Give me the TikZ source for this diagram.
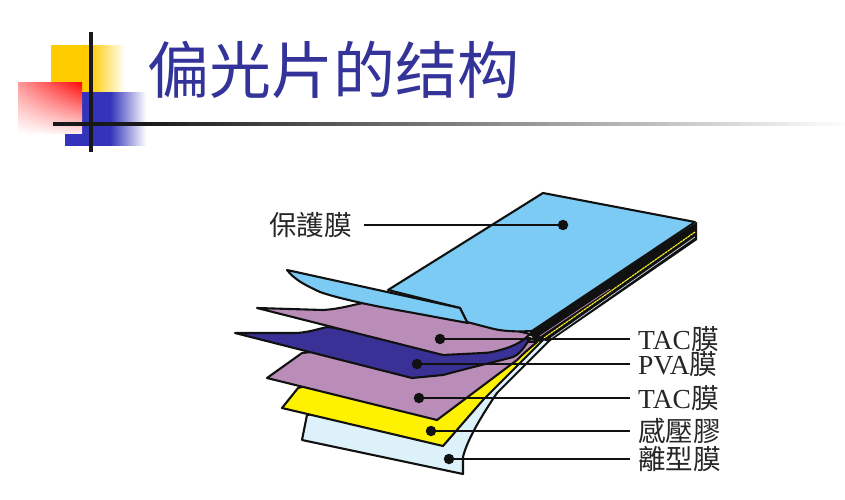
\documentclass[tikz,border=0pt]{standalone}
\usepackage{fontspec}
\usetikzlibrary{shadings}
\setmainfont{Liberation Serif}
\newfontfamily\cjktc{Noto Sans CJK TC}
\newfontfamily\cjksc{Noto Sans CJK SC}
\definecolor{titleblue}{HTML}{333399}
\definecolor{decoyellow}{HTML}{FFCC00}
\definecolor{decoblue}{HTML}{3333BB}
\definecolor{filmblue}{HTML}{7CCBF5}
\definecolor{tacpink}{HTML}{B98DB8}
\definecolor{pvablue}{HTML}{3A3196}
\definecolor{glueyellow}{HTML}{FFF200}
\definecolor{linerblue}{HTML}{DDF1FA}
\definecolor{inkblack}{HTML}{111111}
\tikzset{
  film/.style={draw=inkblack,line width=2.1pt,line join=round},
  dotmark/.style={circle,fill=inkblack,inner sep=0pt,minimum size=10.5pt},
  leader/.style={draw=inkblack,line width=2pt},
  lab/.style={inner xsep=8pt,inner ysep=0pt,anchor=west,font=\fontsize{27.5}{27.5}\selectfont,text=black!85},
  decobar/.style={line width=4pt,color=black!90},
}
\begin{document}
\begin{tikzpicture}[x=1pt,y=-1pt]
\useasboundingbox (0,0) rectangle (845,500);
% decoration
\fill[decoyellow] (51,45) rectangle (125,92);
\foreach \i in {0,...,35} {
  \pgfmathsetmacro{\xx}{90+\i}
  \pgfmathsetmacro{\pp}{100-\i*100/35}
  \fill[decoyellow!\pp!white] (\xx,45) rectangle (125.5,92);
}
\fill[decoblue] (82,92) rectangle (146,146);
\fill[decoblue] (65,133) rectangle (82,146);
\foreach \i in {0,...,36} {
  \pgfmathsetmacro{\xx}{110+\i}
  \pgfmathsetmacro{\pp}{100-\i*100/36}
  \fill[decoblue!\pp!white] (\xx,92) rectangle (146.5,146);
}
\shade[upper left=red!40,upper right=red!95,lower left=white,lower right=red!8] (18,83) rectangle (82,133);
\fill[black!90] (53,121.5) rectangle (845,125.5);
\foreach \i in {0,...,100} {
  \pgfmathsetmacro{\xx}{140+\i*7.05}
  \pgfmathsetmacro{\pp}{90-\i*0.9}
  \fill[black!\pp!white] (\xx,121.5) rectangle (845,125.5);
}
\draw[decobar] (91,32) -- (91,152);
% title
\node[anchor=west,inner sep=0pt,text=titleblue,font=\fontsize{62}{62}\cjksc] (title) at (147,70) {偏光片的结构};
% clear release liner
\draw[film,fill=linerblue] (307,415) -- (302,440) -- (463,474) -- (463,457)
  .. controls (467,440) and (482,415) .. (497,393)
  -- (550,340) -- (540,335) -- (400,400) -- cycle;
% yellow adhesive
\draw[film,fill=glueyellow] (282,408) -- (298,388) -- (400,360) -- (543,340) -- (513,370)
  -- (483,400) -- (443,446) -- cycle;
% lower TAC
\draw[film,fill=tacpink] (267,378) -- (302,353) -- (420,340) -- (537,342)
  .. controls (525,352) and (520,357) .. (517,360) -- (437,420) -- cycle;
% PVA
\draw[film,fill=pvablue] (235,333) -- (297,333) .. controls (310,332) and (318,329) .. (327,327)
  -- (430,340) -- (530,338)
  .. controls (522,352) and (517,355) .. (513,357)
  .. controls (495,362) and (480,365) .. (443,375) -- (412,378) -- cycle;
% upper TAC
\draw[film,fill=tacpink] (257,308) -- (323,310) .. controls (340,309) and (352,305) .. (363,303)
  -- (450,315) -- (530,334)
  .. controls (522,342) and (515,345) .. (507,348)
  .. controls (497,351) and (490,353) .. (483,353) -- (443,355) -- cycle;
% edge band
\fill[inkblack] (697,222) -- (697,240) -- (549,342) -- (530,336) -- (530,331) -- cycle;
\draw[tacpink,line width=.7pt] (610,289) -- (540,336);
\draw[glueyellow!85!white,line width=1.1pt,dash pattern=on 2.5pt off 0.6pt] (695,232) -- (544,338);
\draw[linerblue!80!gray,line width=.7pt] (695,237) -- (551,338);
% protective film
\draw[film,fill=filmblue] (543,193) -- (695,222) -- (532,331)
  .. controls (515,332) and (500,331) .. (490,328) -- (467,322) -- (460,308) -- (388,290) -- cycle;
\draw[film,fill=filmblue] (287,270) -- (460,308) -- (467,322) -- (468,323)
  .. controls (440,318) and (420,314) .. (397,310)
  .. controls (375,306) and (340,299) .. (320,292)
  .. controls (305,285) and (295,280) .. cycle;
% dots
\node[dotmark] (d0) at (563,225) {};
\node[dotmark] (d1) at (440,339) {};
\node[dotmark] (d2) at (417,364) {};
\node[dotmark] (d3) at (419,398) {};
\node[dotmark] (d4) at (431,431) {};
\node[dotmark] (d5) at (449,459) {};
% labels
\node[lab,anchor=east,inner xsep=12pt] (l0) at (364,225) {\cjktc 保護膜};
\node[lab] (l1) at (630,339) {TAC\cjktc 膜};
\node[lab] (l2) at (630,364) {PVA\cjktc 膜};
\node[lab] (l3) at (630,398) {TAC\cjktc 膜};
\node[lab] (l4) at (630,431) {\cjktc 感壓膠};
\node[lab] (l5) at (630,459) {\cjktc 離型膜};
% leaders
\draw[leader] (l0.east) -- (d0);
\draw[leader] (l1.west) -- (d1);
\draw[leader] (l2.west) -- (d2);
\draw[leader] (l3.west) -- (d3);
\draw[leader] (l4.west) -- (d4);
\draw[leader] (l5.west) -- (d5);
\end{tikzpicture}
\end{document}
